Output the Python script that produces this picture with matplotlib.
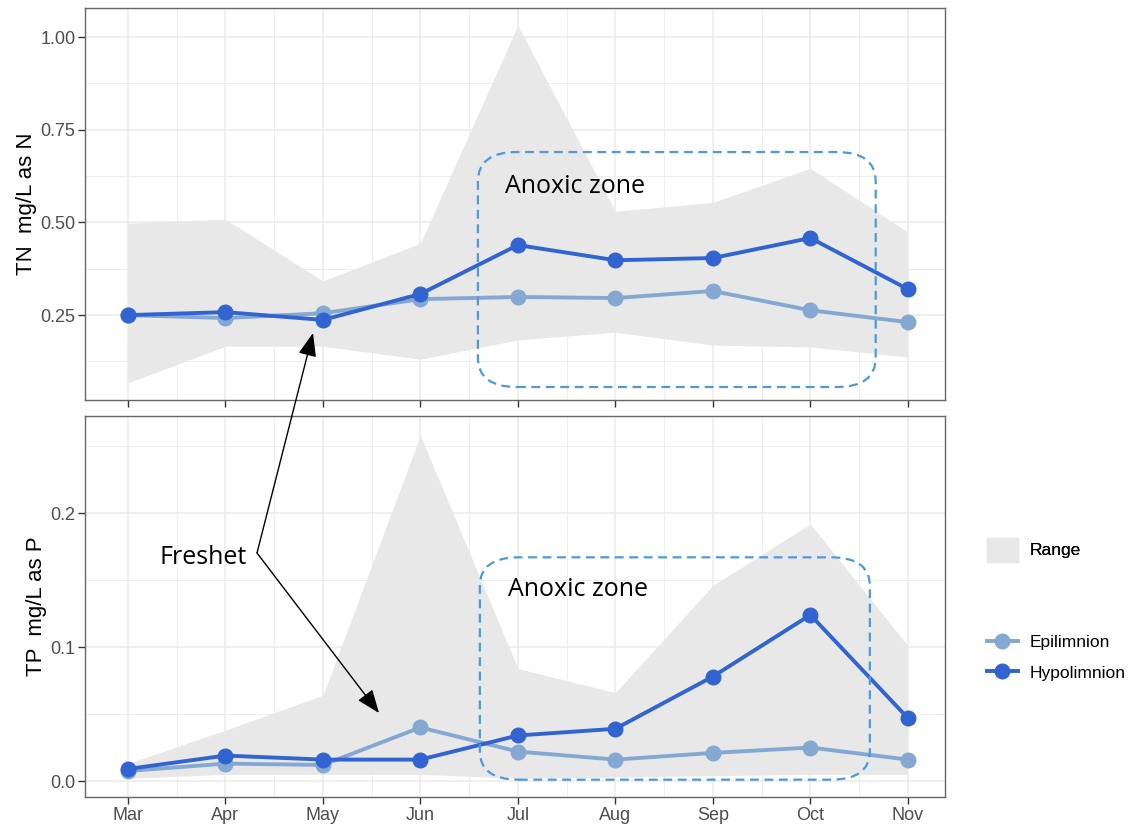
import matplotlib
matplotlib.use("Agg")
import matplotlib.pyplot as plt
from matplotlib.patches import FancyBboxPatch, FancyArrowPatch, Patch
from matplotlib.lines import Line2D

# Monthly values
months = ['Mar', 'Apr', 'May', 'Jun', 'Jul', 'Aug', 'Sep', 'Oct', 'Nov']

tn_epi = [0.250, 0.242, 0.255, 0.293, 0.299, 0.296, 0.315, 0.263, 0.231]
tn_hypo = [0.250, 0.258, 0.237, 0.307, 0.439, 0.398, 0.404, 0.458, 0.320]
tn_lo = [0.067, 0.166, 0.166, 0.131, 0.183, 0.204, 0.169, 0.164, 0.137]
tn_hi = [0.498, 0.509, 0.342, 0.444, 1.032, 0.530, 0.554, 0.646, 0.474]

tp_epi = [0.0075, 0.013, 0.012, 0.040, 0.022, 0.016, 0.021, 0.025, 0.016]
tp_hypo = [0.009, 0.019, 0.016, 0.016, 0.034, 0.039, 0.078, 0.124, 0.047]
tp_lo = [0.002, 0.005, 0.005, 0.005, 0.002, 0.003, 0.004, 0.005, 0.005]
tp_hi = [0.013, 0.038, 0.064, 0.258, 0.084, 0.066, 0.146, 0.192, 0.101]

EPI = '#84a8d2'
HYPO = '#3164d1'
RANGE = '#e8e8e8'
BOX = '#4e98dc'
GRID = '#ebebeb'
NOTE_FONT = ['Open Sans', 'DejaVu Sans']

plt.rcParams['font.family'] = ['Liberation Sans', 'DejaVu Sans']

fig = plt.figure(figsize=(11.36, 8.24), dpi=100)
ax1 = fig.add_axes([0.0748, 0.5146, 0.757, 0.4754])
ax2 = fig.add_axes([0.0748, 0.0328, 0.757, 0.4622])
x = list(range(len(months)))


def style(ax, ylim, yticks, ylabels, yminor, ylab):
    ax.set_xlim(-0.44, 8.38)
    ax.set_xticks(x)
    ax.set_xticks([i + 0.5 for i in x[:-1]], minor=True)
    ax.set_yticks(yticks)
    ax.set_yticklabels(ylabels)
    ax.set_yticks(yminor, minor=True)
    ax.set_ylim(*ylim)
    ax.grid(which='major', color=GRID, lw=1.1, zorder=0)
    ax.grid(which='minor', color=GRID, lw=0.6, zorder=0)
    ax.set_axisbelow(True)
    for s in ax.spines.values():
        s.set_color('#666666')
        s.set_linewidth(1.0)
    ax.tick_params(which='major', length=5, color='#333333', width=1,
                   labelsize=13, labelcolor='#4d4d4d', pad=2)
    ax.tick_params(which='minor', length=0)
    ax.set_ylabel(ylab, fontsize=16, labelpad=2)


def draw(ax, lo, hi, epi, hypo):
    ax.fill_between(x, lo, hi, color=RANGE, lw=0, zorder=1)
    ax.plot(x, epi, color=EPI, lw=2.8, marker='o', ms=10.5, zorder=3)
    ax.plot(x, hypo, color=HYPO, lw=2.8, marker='o', ms=10.5, zorder=4)


draw(ax1, tn_lo, tn_hi, tn_epi, tn_hypo)
style(ax1, (0.021, 1.078), [0.25, 0.50, 0.75, 1.00],
      ['0.25', '0.50', '0.75', '1.00'], [0.125, 0.375, 0.625, 0.875],
      'TN  mg/L as N')
ax1.set_xticklabels([])

draw(ax2, tp_lo, tp_hi, tp_epi, tp_hypo)
style(ax2, (-0.0119, 0.2724), [0.0, 0.1, 0.2], ['0.0', '0.1', '0.2'],
      [0.05, 0.15, 0.25], 'TP  mg/L as P')
ax2.set_xticklabels(months)


# Anoxic zone boxes
def anoxic(ax, x0, x1, y0, y1, tx, ty):
    yr = ax.get_ylim()[1] - ax.get_ylim()[0]
    box = FancyBboxPatch((x0, y0), x1 - x0, y1 - y0,
                         boxstyle='round,pad=0,rounding_size=0.4',
                         mutation_aspect=yr / 8.8 * 1.65,
                         fill=False, ec=BOX, lw=1.6, ls=(0, (4, 2.5)), zorder=5)
    ax.add_patch(box)
    ax.text(tx, ty, 'Anoxic zone', fontsize=18, family=NOTE_FONT,
            va='center', ha='left', zorder=6)


anoxic(ax1, 3.59, 7.67, 0.056, 0.690, 3.87, 0.598)
anoxic(ax2, 3.61, 7.61, 0.001, 0.167, 3.90, 0.143)

# Freshet annotation (figure pixel positions)
W, H = 1136, 824


def fp(px, py):
    return (px / W, 1 - py / H)


fig.text(*fp(159, 557), 'Freshet', fontsize=18, family=NOTE_FONT,
         va='center', ha='left')
for tgt in [(313, 333), (379, 713)]:
    fig.add_artist(FancyArrowPatch(
        fp(257, 553), fp(*tgt), transform=fig.transFigure,
        arrowstyle='-|>,head_length=0.9,head_width=0.35', mutation_scale=16,
        color='black', lw=1.0, shrinkA=0, shrinkB=0))

# Legends
leg1 = fig.legend(handles=[Patch(color=RANGE, label='Range')],
                  loc='center left', bbox_to_anchor=(0.866, 0.333),
                  frameon=False, fontsize=12.5, handlelength=1.75, handleheight=1.75,
                  handletextpad=0.7, borderpad=0.2, borderaxespad=0)
fig.add_artist(leg1)
fig.legend(handles=[Line2D([], [], color=EPI, lw=2.8, marker='o', ms=10.5, label='Epilimnion'),
                    Line2D([], [], color=HYPO, lw=2.8, marker='o', ms=10.5, label='Hypolimnion')],
           loc='center left', bbox_to_anchor=(0.866, 0.202), frameon=False,
           fontsize=12.5, handlelength=1.75, labelspacing=0.9, handletextpad=0.7,
           borderpad=0.2, borderaxespad=0)

fig.savefig('out.png', dpi=100)
